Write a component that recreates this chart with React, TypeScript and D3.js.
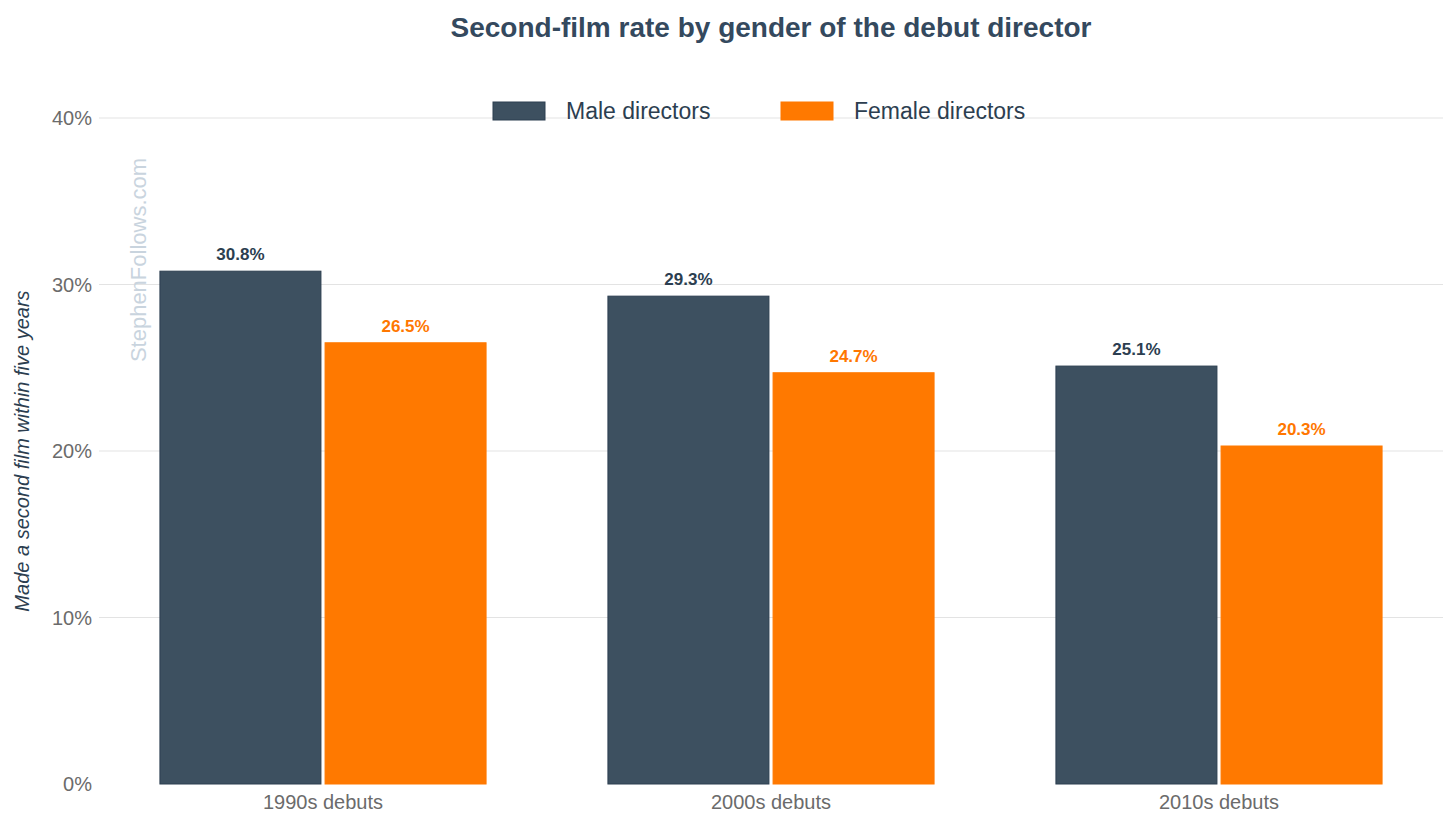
import React from 'react';
import * as d3 from 'd3';

const categories = ['1990s debuts', '2000s debuts', '2010s debuts'];
const series = ['Male directors', 'Female directors'];
const maleValues = [30.8, 29.3, 25.1];
const femaleValues = [26.5, 24.7, 20.3];
const yTicks = [0, 10, 20, 30, 40];

const W = 1456, H = 828;
const left = 99, right = 1443, top = 118, bottom = 784;
const barColors = ['#3d5060', '#ff7900'];
const labelColors = ['#2c3e50', '#ff7700'];
const font = '"Liberation Sans", Arial, sans-serif';

export default function App() {
  const x = d3.scaleBand().domain(categories).range([left, right]).paddingInner(0.272).paddingOuter(0.136);
  const xs = d3.scaleBand().domain(series).range([0, x.bandwidth()]).paddingInner(0.025);
  const y = d3.scaleLinear().domain([0, 40]).range([bottom, top]);
  const vals = [maleValues, femaleValues];

  return (
    <svg width={W} height={H} style={{ position: 'absolute', left: 0, top: 0, fontFamily: font }}>
      <rect width={W} height={H} fill="#fff" />
      {yTicks.map(t => (
        <g key={t}>
          {t > 0 && <line x1={left} x2={right} y1={y(t)} y2={y(t)} stroke="#e3e3e3" />}
          <text x={92} y={y(t)} dy="0.35em" textAnchor="end" fontSize={20} fill="#6b6b6b">{t}%</text>
        </g>
      ))}
      <text x={138} y={260} transform="rotate(-90,138,260)" textAnchor="middle" dy="0.35em" fontSize={22} fill="#c9d4de">StephenFollows.com</text>
      <text x={22} y={451} transform="rotate(-90,22,451)" textAnchor="middle" dy="0.35em" fontSize={20} fontStyle="italic" fill="#2c3e50">Made a second film within five years</text>
      {categories.map((c, i) => (
        <g key={c}>
          {series.map((s, j) => {
            const bx = (x(c) as number) + (xs(s) as number);
            const v = vals[j][i];
            return (
              <g key={s}>
                <rect x={bx} y={y(v)} width={xs.bandwidth()} height={bottom - y(v)} fill={barColors[j]} stroke={j === 0 ? '#2c3e50' : '#ff7900'} strokeWidth={1} />
                <text x={bx + xs.bandwidth() / 2} y={y(v) - 11} textAnchor="middle" fontSize={17} fontWeight="bold" fill={labelColors[j]}>{v.toFixed(1)}%</text>
              </g>
            );
          })}
          <text x={(x(c) as number) + x.bandwidth() / 2} y={809} textAnchor="middle" fontSize={20} fill="#6b6b6b">{c}</text>
        </g>
      ))}
      <text x={771} y={27} dy="0.35em" textAnchor="middle" fontSize={28} fontWeight="bold" fill="#34495e">Second-film rate by gender of the debut director</text>
      {series.map((s, j) => {
        const lx = j === 0 ? 493 : 781;
        return (
          <g key={s}>
            <rect x={lx} y={102} width={52} height={18} fill={barColors[j]} stroke={j === 0 ? '#2c3e50' : '#ff7900'} />
            <text x={lx + 73} y={111} dy="0.35em" fontSize={23} fill="#2c3e50">{s}</text>
          </g>
        );
      })}
    </svg>
  );
}
